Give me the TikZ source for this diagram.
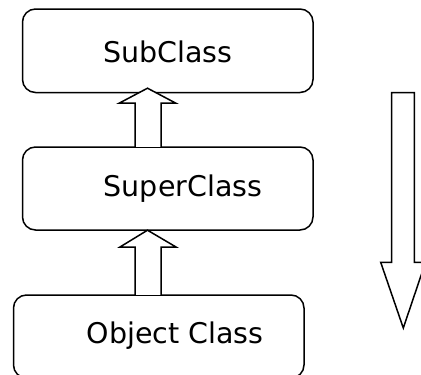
\documentclass[tikz,border=0pt]{standalone}
\usepackage{fontspec}
\setmainfont{DejaVu Sans}
\begin{document}
\begin{tikzpicture}[x=1pt,y=-1pt,
  box/.style={draw=black,line width=1.5pt,rounded corners=13pt,fill=white},
  lbl/.style={font=\fontsize{28.5}{32}\selectfont,inner sep=0pt,anchor=center},
  harrow/.style={draw=black,line width=1.5pt,fill=white,line join=miter}]
\useasboundingbox (0,0) rectangle (421,375);
\clip (0,0) rectangle (421,375);
% boxes
\path[box] (22.5,9) rectangle (313,92.5);
\node[inner sep=0pt,minimum width=290.5pt,minimum height=83.5pt] (sub) at (167.75,50.75) {};
\path[box] (22.5,147) rectangle (313,230);
\node[inner sep=0pt,minimum width=290.5pt,minimum height=83pt] (sup) at (167.75,188.5) {};
\path[box] (13.5,295) rectangle (304,378);
\node[inner sep=0pt,minimum width=290.5pt,minimum height=83pt] (obj) at (158.75,336.5) {};
% labels
\node[lbl] (subtxt) at (168,52) {SubClass};
\node[lbl] (suptxt) at (183,189) {SuperClass};
\node[lbl] (objtxt) at (175,336) {Object Class};
% hollow arrows
\coordinate (tip1) at ([yshift=4.5pt]sub.south -| 147.5,0);
\coordinate (tip2) at (sup.south -| 147.5,0);
\draw[harrow] (sup.north -| 135,0) -- (135,103) -- (119.5,103) -- (tip1) -- (175.5,103) -- (161,103) -- (sup.north -| 161,0);
\draw[harrow] (obj.north -| 135,0) -- (135,247) -- (120,247) -- (tip2) -- (176,247) -- (161,247) -- (obj.north -| 161,0);
% big downward arrow
\coordinate (bigtop) at (403,92.5);
\coordinate (bigtip) at (403.3,328);
\draw[harrow] (391.7,92.5) -- (414.3,92.5) -- (414.3,262.3) -- (425.5,262.3) -- (bigtip) -- (380.7,262.3) -- (391.7,262.3) -- cycle;
\end{tikzpicture}
\end{document}
